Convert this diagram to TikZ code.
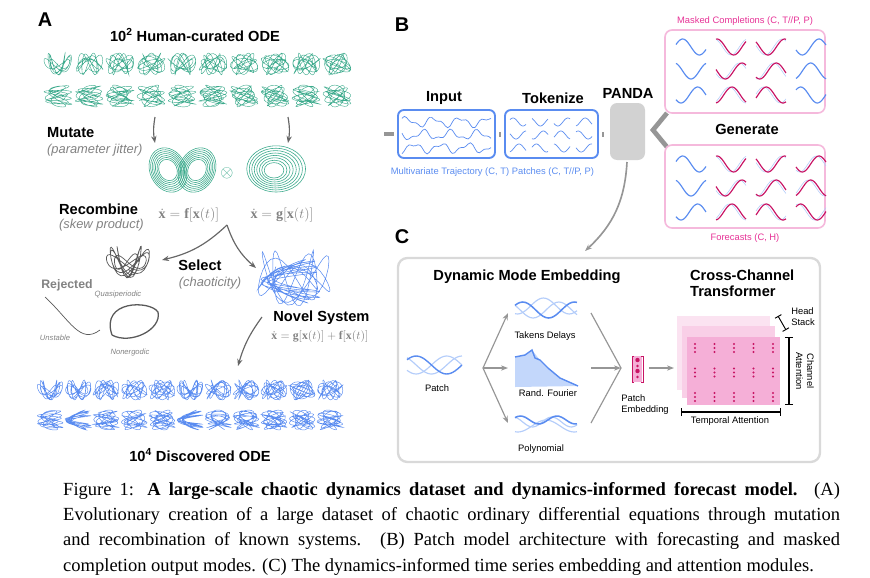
\documentclass[tikz,border=0pt]{standalone}
\usepackage{fontspec}
\setmainfont{Liberation Serif}
\newfontfamily\sff{Liberation Sans}
\usetikzlibrary{positioning,arrows.meta}
\definecolor{tealA}{RGB}{60,170,140}
\definecolor{blueA}{RGB}{90,140,240}
\definecolor{blueL}{RGB}{180,205,250}
\definecolor{pinkB}{RGB}{245,185,220}
\definecolor{pinkF}{RGB}{245,175,215}
\definecolor{magA}{RGB}{200,20,100}
\definecolor{pinkT}{RGB}{230,50,150}
\definecolor{grayA}{RGB}{150,150,150}
\definecolor{grayT}{RGB}{130,130,130}
% small helpers
\newcommand{\scrib}[6]{% x y rx ry a b
  \draw plot[domain=0:1440, samples=160] ({#1+#3*sin(#5*\x)*(0.75+0.25*cos(0.37*\x))},{#2+#4*sin(#6*\x+40)*(0.7+0.3*sin(0.23*\x))});}
\newcommand{\wav}[6]{% x y width amp freq phase
  \draw plot[domain=0:1, samples=25, smooth] ({#1+#3*\x},{#2-#4*sin(360*(#5*\x+#6))});}
\begin{document}
\begin{tikzpicture}[x=0.03cm, y=-0.03cm,
  panel/.style = {font=\sff\bfseries\fontsize{17}{17}\selectfont},
  head/.style = {font=\sff\bfseries\fontsize{12.5}{14}\selectfont},
  sub/.style = {font=\sff\itshape\fontsize{11}{12}\selectfont, text=grayT},
  tiny/.style = {font=\sff\fontsize{8}{9.5}\selectfont},
  tinyi/.style = {font=\sff\itshape\fontsize{6.5}{7}\selectfont, text=grayT},
  eq/.style = {text=grayT, font=\fontsize{12}{12}\selectfont, inner sep=1pt},
  arr/.style = {-{Stealth[length=6pt]}, grayA, line width=1.4pt},
  darr/.style = {-{Stealth[length=6pt]}, gray!80!black, line width=1pt},
  stub/.style = {grayA, line width=3pt},
  tbox/.style = {draw=blueA, line width=1.6pt, rounded corners=5pt},
  pbox/.style = {draw=pinkB, line width=1.4pt, rounded corners=6pt},
]
\useasboundingbox (0,0) rectangle (870,577);

% ---------------- panel A
\node[panel] (pa) at (45,20) {A};
\node[head] (hum) at (195,35) {10\textsuperscript{2} Human-curated ODE};
\begin{scope}[tealA, line width=0.35pt]
\foreach \i in {0,...,9}{
  \pgfmathsetmacro\cx{58+31*\i}
  \pgfmathsetmacro\pa{1+0.13*mod(\i,4)+0.07*\i}
  \pgfmathsetmacro\pb{2.1+0.17*mod(\i,3)}
  \scrib{\cx}{64}{14}{11}{\pa}{\pb}
  \scrib{\cx}{96}{14}{11}{\pb}{\pa}
}
\end{scope}
\coordinate (m1) at (155,117); \coordinate (m2) at (155,143);
\coordinate (m3) at (288,117); \coordinate (m4) at (288,143);
\draw[darr] (m1) to[bend right=10] (m2);
\draw[darr] (m3) to[bend left=10] (m4);
\node[head, anchor=west] (mut) at (43,133) {Mutate};
\node[sub, anchor=west] (jit) at (43,150) {(parameter jitter)};
% butterfly
\begin{scope}[tealA, line width=0.5pt]
\foreach \k in {0.4,0.5,...,1.05}{
  \draw[rotate around={25:(168,170)}] (168,170) ellipse ({15*\k+3} and {20*\k+3});
  \draw[rotate around={-25:(197,170)}] (197,170) ellipse ({15*\k+3} and {20*\k+3});
}
\foreach \k in {0.35,0.45,...,1.05}{
  \draw ({273+3*\k},{171-2*\k}) ellipse ({28*\k} and {22*\k});
}
\end{scope}
\node[text=tealA, font=\Large] (ot) at (227,173) {$\otimes$};
\node[head, anchor=west] (rec) at (55,209) {Recombine};
\node[sub, anchor=west] (skew) at (55,225) {(skew product)};
\node[eq] (eqf) at (189,215) {$\dot{\mathbf{x}}=\mathbf{f}[\mathbf{x}(t)]$};
\node[eq] (eqg) at (282,215) {$\dot{\mathbf{x}}=\mathbf{g}[\mathbf{x}(t)]$};
\coordinate (sp) at (227,225);
\coordinate (sl) at (162,260); \coordinate (sr) at (256,268);
\draw[darr] (sp) to[bend left=15] (sl);
\draw[darr] (sp) to[bend right=15] (sr);
\node[head] (sel) at (200,265) {Select};
\node[sub] (cha) at (210,283) {(chaoticity)};
\begin{scope}[gray!70!black, line width=0.6pt]
\scrib{128}{262}{22}{16}{1.31}{2.73}
\draw (45,297) .. controls (70,320) and (80,345) .. (100,330);
\draw[line width=1.1pt] (112,335) .. controls (100,300) and (150,300) .. (158,312) .. controls (162,330) and (130,345) .. (112,335);
\end{scope}
\node[head, text=grayT, font=\sff\bfseries\fontsize{10.5}{12}\selectfont] (rej) at (67,285) {Rejected};
\node[tinyi] (qua) at (118,295) {Quasiperiodic};
\node[tinyi] (uns) at (55,338) {Unstable};
\node[tinyi] (nonerg) at (130,353) {Nonergodic};
\begin{scope}[blueA, line width=0.45pt]
\scrib{292}{278}{38}{28}{1.21}{2.63}
\scrib{290}{281}{30}{22}{2.31}{1.17}
\end{scope}
\node[head, anchor=west, inner sep=1pt] (nov) at (272,318) {Novel System};
\node[eq, anchor=west, font=\fontsize{10}{10}\selectfont] (eqn) at (270,337) {$\dot{\mathbf{x}}=\mathbf{g}[\mathbf{x}(t)]+\mathbf{f}[\mathbf{x}(t)]$};
\coordinate (n1) at (262,317); \coordinate (n2) at (238,366);
\draw[darr] (n1) to[bend right=10] (n2);
\begin{scope}[blueA, line width=0.4pt]
\foreach \i in {0,...,10}{
  \pgfmathsetmacro\cx{50+28*\i}
  \pgfmathsetmacro\pa{1.1+0.11*mod(\i,5)+0.05*\i}
  \pgfmathsetmacro\pb{2.3+0.19*mod(\i,3)}
  \scrib{\cx}{390}{13}{10}{\pa}{\pb}
  \scrib{\cx}{420}{13}{10}{\pb}{\pa}
}
\end{scope}
\node[head] (disc) at (200,455) {10\textsuperscript{4} Discovered ODE};

% ---------------- panel B
\node[panel] (pb) at (402,25) {B};
\node[tbox, minimum width=97*0.03cm, minimum height=48*0.03cm, inner sep=0pt] (inp) at (446.5,134) {};
\node[tbox, minimum width=93*0.03cm, minimum height=48*0.03cm, inner sep=0pt] (tok) at (551.5,134) {};
\node[fill=gray!35, rounded corners=6pt, minimum width=35*0.03cm, minimum height=57*0.03cm, inner sep=0pt] (pan) at (627.5,131.5) {};
\node[head] (linp) at (444,98) {Input};
\node[head] (ltok) at (553,98) {Tokenize};
\node[head] (lpan) at (628,93) {PANDA};
\coordinate (s0) at (384,134); \coordinate (s1) at (394,134);
\draw[stub] (s0) -- (s1);
\draw[stub, line width=2pt] (500,132) -- (500,137);
\draw[stub, line width=2pt] (603,132) -- (603,137);
\draw[grayA, line width=4pt] (667,113) -- (653,130) -- (667,147);
\begin{scope}[blueA, line width=0.6pt]
\foreach \r/\p in {0/0.1,1/0.45,2/0.8}{
  \draw plot[domain=0:1, samples=40, smooth] ({402+89*\x},{122+13*\r-4*sin(360*(3.3*\x+\p))-2*sin(360*(7*\x+\p))});
  \foreach \c in {0,...,3}{
    \pgfmathsetmacro\ph{0.23*\c+\p}
    \wav{510+22*\c}{122+13*\r}{16}{4}{0.8}{\ph}
  }
}
\end{scope}
\node[tiny, text=blueA] (ltr) at (450,172) {Multivariate Trajectory (C, T)};
\node[tiny, text=blueA] (lpt) at (553,172) {Patches (C, T//P, P)};
\node[pbox, minimum width=160*0.03cm, minimum height=83*0.03cm] (mask) at (745,71.5) {};
\node[pbox, minimum width=160*0.03cm, minimum height=83*0.03cm] (fore) at (745,186.5) {};
\node[tiny, text=pinkT] (lmask) at (745,21) {Masked Completions (C, T//P, P)};
\node[tiny, text=pinkT] (lfor) at (745,238) {Forecasts (C, H)};
\node[head] (lgen) at (747,129) {Generate};
\foreach \r/\p in {0/0.05,1/0.3,2/0.6}{
  \foreach \c/\cm/\cf in {0/blueA/blueA,1/magA/magA,2/magA/magA,3/blueA/magA}{
    \pgfmathsetmacro\ph{0.17*\c+\p}
    \pgfmathsetmacro\phb{\ph+0.08}
    \pgfmathsetmacro\xx{676+40*\c}
    \begin{scope}[line width=0.5pt, blueL]
      \ifnum\c>0 \ifnum\c<3 \wav{\xx}{47+24*\r}{30}{8}{0.9}{\phb} \fi\fi
      \ifnum\c>0 \wav{\xx}{164+24*\r}{30}{8}{0.9}{\phb} \fi
    \end{scope}
    \begin{scope}[line width=1pt]
      \draw[\cm] plot[domain=0:1, samples=25, smooth] ({\xx+30*\x},{47+24*\r-8*sin(360*(0.9*\x+\ph))});
      \draw[\cf] plot[domain=0:1, samples=25, smooth] ({\xx+30*\x},{164+24*\r-8*sin(360*(0.9*\x+\ph))});
    \end{scope}
  }
}

% ---------------- panel C
\node[panel] (pc) at (402,237) {C};
\coordinate (pout) at (627,162);
\coordinate (cin) at (585,251);
\draw[arr] (pout) to[bend left=22] (cin);
\draw[gray!30, line width=2pt, rounded corners=8pt] (398,258) rectangle (820,462);
\node[head] (ldme) at (527,277) {Dynamic Mode Embedding};
\node[head, anchor=west, align=left] (lcct) at (686,283) {Cross-Channel\\Transformer};
% patch
\begin{scope}[line width=1pt, blueL]
  \wav{407}{365}{55}{9}{0.9}{0.35} \wav{407}{365}{55}{9}{0.9}{0.6}
\end{scope}
\draw[blueA, line width=1.2pt] plot[domain=0:1, samples=25, smooth] ({407+55*\x},{365-9*sin(360*(0.9*\x+0.1))});
\node[tiny] (lpat) at (437,388) {Patch};
\coordinate (f0) at (483,368);
\coordinate (f1) at (508,313); \coordinate (f2) at (508,368); \coordinate (f3) at (508,423);
\foreach \t in {f1,f2,f3} \draw[arr, line width=1pt] (f0) -- (\t);
\begin{scope}[blueL, line width=1pt]
  \wav{515}{310}{62}{8}{1.2}{0.4} \wav{515}{306}{62}{8}{1.2}{0.7}
  \wav{515}{422}{62}{5}{1.6}{0.3} \wav{515}{426}{62}{6}{1.1}{0.7}
\end{scope}
\draw[blueA, line width=1.3pt] plot[domain=0:1, samples=25, smooth] ({515+62*\x},{310-8*sin(360*(1.2*\x+0.1))});
\draw[blueA, line width=1.3pt] plot[domain=0:1, samples=25, smooth] ({515+62*\x},{420-4*sin(360*(1.7*\x+0.1))});
\fill[blueL!80] (515,387) -- (515,357) -- (525,355) -- (532,350) -- (540,360) -- (548,368) -- (560,378) -- (578,386) -- cycle;
\draw[blueA, line width=1.2pt] (515,357) -- (525,355) -- (532,350) -- (535,358) -- (540,360) -- (548,368) -- (560,378) -- (578,386);
\node[tiny] (ltak) at (545,336) {Takens Delays};
\node[tiny] (lfou) at (548,393) {Rand. Fourier};
\node[tiny] (lpol) at (541,449) {Polynomial};
\coordinate (g1) at (591,313); \coordinate (g2) at (591,368); \coordinate (g3) at (591,423);
\coordinate (g0) at (621,368);
\draw[grayA, line width=1pt] (g1) -- (g0) -- (g3);
\draw[arr, line width=1pt] (g2) -- (g0);
% patch embedding icon
\fill[pinkF] (633,356) rectangle (642,382);
\draw[magA, line width=0.8pt] (634,356) -- (632,356) -- (632,382) -- (634,382);
\draw[magA, line width=0.8pt] (641,356) -- (643,356) -- (643,382) -- (641,382);
\foreach \yy/\rr in {360/2.2,366/1.3,371/2.2,377/1.3} \fill[magA] (637.5,\yy) circle (\rr);
\node[tiny, align=left] (lemb) at (645,405) {Patch\\Embedding};
\coordinate (e1) at (649,368); \coordinate (e2) at (674,368);
\draw[arr, line width=1pt] (e1) -- (e2);
% transformer stack
\fill[pinkF!35] (677,316) rectangle (770,390);
\fill[pinkF!60] (682,326) rectangle (775,398);
\fill[pinkF] (687,337) rectangle (780,405);
\foreach \c in {0,...,4}{
  \foreach \r in {0,...,2}{
    \foreach \d in {-4,0,4} \fill[magA] ({695+19.5*\c},{348+24.5*\r+\d}) circle (1.2);
  }
}
\draw[|-|, line width=1pt] (789,337) -- (789,405);
\draw[|-|, line width=1pt] (681,412) -- (781,412);
\draw[|-|, line width=0.8pt] (778,316) -- (786,330);
\node[tiny, rotate=-90, align=center] (lcha) at (805,371) {Channel\\Attention};
\node[tiny] (ltem) at (730,421) {Temporal Attention};
\node[tiny, align=left] (lhea) at (803,317) {Head\\Stack};

% ---------------- caption
\node[anchor=north west, text width=23.3cm, align=justify, inner sep=0pt,
  font=\fontsize{15.8}{21.6}\selectfont] (cap) at (63,482)
  {\hyphenpenalty=10000 Figure 1: \textbf{A large-scale chaotic dynamics dataset and dynamics-informed forecast model.} (A)\linebreak
  Evolutionary creation of a large dataset of chaotic ordinary differential equations through mutation\linebreak
  and recombination of known systems. (B) Patch model architecture with forecasting and masked\linebreak
  completion output modes. (C) The dynamics-informed time series embedding and attention modules.};
\end{tikzpicture}
\end{document}
